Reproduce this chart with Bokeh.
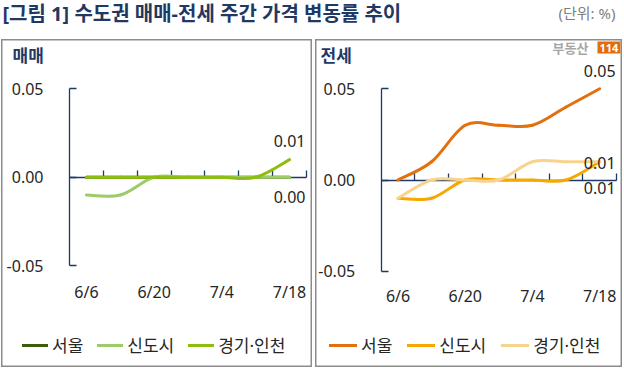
from bokeh.plotting import figure
from bokeh.models import (LinearAxis, FixedTicker, Range1d, Legend, LegendItem,
                          Label, Spacer, NumeralTickFormatter)
from bokeh.layouts import column, row
from bokeh.embed import file_html
from bokeh.resources import INLINE
from bokeh.core.properties import value

# ---------------- data ----------------
dates = ["6/6", "6/13", "6/20", "6/27", "7/4", "7/11", "7/18"]
series_names = ["서울", "신도시", "경기·인천"]

# 매매 (sale) weekly change, %
sale_seoul = [0.00, 0.00, 0.00, 0.00, 0.00, 0.00, 0.00]
sale_newtown = [-0.01, -0.01, 0.00, 0.00, 0.00, 0.00, 0.00]
sale_gyeonggi = [0.00, 0.00, 0.00, 0.00, 0.00, 0.00, 0.01]

# 전세 (jeonse) weekly change, %
jeonse_seoul = [0.00, 0.01, 0.03, 0.03, 0.03, 0.04, 0.05]
jeonse_newtown = [-0.01, -0.01, 0.00, 0.00, 0.00, 0.00, 0.01]
jeonse_gyeonggi = [-0.01, 0.00, 0.00, 0.00, 0.01, 0.01, 0.01]

y_ticks = [-0.05, 0.00, 0.05]

NAVY = "#1F3864"
KR = "'Noto Sans', 'Noto Sans CJK KR', sans-serif"
NUM = "Noto Sans"
TXT = "#262626"


def smooth_segments(xs, ys):
    """Catmull-Rom style bezier segments through the data points."""
    n = len(xs)
    P = list(zip(xs, ys))
    d = dict(x0=[], y0=[], x1=[], y1=[], cx0=[], cy0=[], cx1=[], cy1=[])
    for i in range(n - 1):
        p0 = P[i - 1] if i > 0 else P[i]
        p1 = P[i]
        p2 = P[i + 1]
        p3 = P[i + 2] if i + 2 < n else P[i + 1]
        d["x0"].append(p1[0]); d["y0"].append(p1[1])
        d["x1"].append(p2[0]); d["y1"].append(p2[1])
        d["cx0"].append(p1[0] + (p2[0] - p0[0]) / 6)
        d["cy0"].append(p1[1] + (p2[1] - p0[1]) / 6)
        d["cx1"].append(p2[0] - (p3[0] - p1[0]) / 6)
        d["cy1"].append(p2[1] - (p3[1] - p1[1]) / 6)
    return d


def panel(title, title_x, series, colors, width, H, ax_px, band_end_px, y_top_px, y_bot_px,
          lab_standoff, labels, legend_x, spacing, glyph_w):
    n = len(dates)
    ppx = (band_end_px - ax_px) / n
    xs0 = -0.5 - ax_px / ppx
    xe0 = n - 0.5 + (width - band_end_px) / ppx
    ppy = (y_bot_px - y_top_px) / (y_ticks[-1] - y_ticks[0])
    ye0 = y_ticks[-1] + y_top_px / ppy
    ys0 = y_ticks[0] - (H - y_bot_px) / ppy

    p = figure(width=width, height=H, x_range=Range1d(xs0, xe0), y_range=Range1d(ys0, ye0),
               x_axis_location=None, y_axis_location=None, toolbar_location=None,
               output_backend="svg", min_border=0, min_border_left=0, min_border_right=0,
               min_border_top=0, min_border_bottom=0,
               outline_line_color="#8C8C8C", outline_line_width=2,
               background_fill_color="white", border_fill_color="white")
    p.grid.visible = False

    # horizontal axis line at zero with band-boundary ticks
    xaxis = LinearAxis(fixed_location=0, bounds=(-0.5, n - 0.5),
                       ticker=FixedTicker(ticks=[i + 0.5 for i in range(n)]),
                       axis_line_color=NAVY, axis_line_width=1.3,
                       major_tick_line_color=NAVY, major_tick_line_width=1.3,
                       major_tick_in=7, major_tick_out=0,
                       minor_tick_line_color=None, major_label_text_color=None,
                       level="underlay")
    p.add_layout(xaxis, "below")

    # category labels at the bottom
    lab_idx = list(range(0, n, 2))
    lab_axis = LinearAxis(fixed_location=y_ticks[0], ticker=FixedTicker(ticks=lab_idx),
                          major_label_overrides={i: dates[i] for i in lab_idx},
                          axis_line_color=None, major_tick_line_color=None,
                          minor_tick_line_color=None, major_label_standoff=lab_standoff,
                          major_label_text_font=NUM, major_label_text_font_size="16px",
                          major_label_text_color=TXT)
    p.add_layout(lab_axis, "below")

    yaxis = LinearAxis(fixed_location=-0.5, bounds=(y_ticks[0], y_ticks[-1]),
                       ticker=FixedTicker(ticks=y_ticks),
                       formatter=NumeralTickFormatter(format="0.00"),
                       axis_line_color=NAVY, axis_line_width=1.3,
                       major_tick_line_color=NAVY, major_tick_line_width=1.3,
                       major_tick_in=7, major_tick_out=0, minor_tick_line_color=None,
                       major_label_standoff=26, major_label_text_font=NUM,
                       major_label_text_font_size="16px", major_label_text_color=TXT,
                       level="underlay")
    p.add_layout(yaxis, "left")

    xs = list(range(n))
    items = []
    for name, ys, col in zip(series_names, series, colors):
        r = p.bezier(line_color=col, line_width=3, line_cap="round",
                     **smooth_segments(xs, ys))
        items.append(LegendItem(label=name, renderers=[r]))

    # end-point data labels
    for si, dy in labels:
        ys = series[si]
        p.text(x=[xs[-1]], y=[ys[-1]], text=[f"{ys[-1]:.2f}"], y_offset=dy,
               text_align="center", text_baseline="middle",
               text_font=value(NUM), text_font_size="16px", text_color=TXT)

    legend = Legend(items=items, orientation="horizontal", location=(legend_x, 10),
                    padding=0, margin=0, spacing=spacing, label_standoff=4,
                    glyph_width=glyph_w, glyph_height=16, label_height=16,
                    label_text_font=KR, label_text_font_size="17px",
                    label_text_color=TXT, border_line_color=None,
                    background_fill_alpha=0)
    p.add_layout(legend)

    p.add_layout(Label(x=title_x, y=H - 16, x_units="screen", y_units="screen", text=title,
                       text_font=KR, text_font_size="17px", text_font_style="bold",
                       text_color=NAVY, text_baseline="middle"))
    return p


H = 328
left = panel("매매", 11, [sale_seoul, sale_newtown, sale_gyeonggi],
             ["#3D5C0A", "#9CCB6B", "#8DBE0F"],
             width=311, H=H, ax_px=68, band_end_px=305, y_top_px=49.3, y_bot_px=226.3,
             lab_standoff=9, labels=[(2, -19), (0, 20)], legend_x=21, spacing=14, glyph_w=26)

right = panel("전세", 5, [jeonse_seoul, jeonse_newtown, jeonse_gyeonggi],
              ["#E2700E", "#F7A800", "#F8D38E"],
              width=307, H=H, ax_px=65.7, band_end_px=301, y_top_px=49.3, y_bot_px=231.7,
              lab_standoff=8, labels=[(0, -18), (2, 1), (1, 26)], legend_x=14, spacing=15,
              glyph_w=28)

# 부동산114 logo
right.add_layout(Label(x=237, y=H - 8, x_units="screen", y_units="screen", text="부동산",
                       text_font=KR, text_font_size="13px", text_font_style="bold",
                       text_color="#A6A6A6", text_baseline="middle"))
right.add_layout(Label(x=282, y=H - 8, x_units="screen", y_units="screen", text="114",
                       text_font=NUM, text_font_size="11px", text_font_style="bold",
                       text_color="white", text_baseline="middle", padding=2,
                       background_fill_color="#E46C0A"))

# title strip
TH = 39
top = figure(width=622, height=TH, x_range=Range1d(0, 1), y_range=Range1d(0, 1),
             x_axis_location=None, y_axis_location=None, toolbar_location=None,
             output_backend="svg", min_border=0, outline_line_color=None,
             background_fill_color="white", border_fill_color="white")
top.grid.visible = False
top.add_layout(Label(x=2, y=TH - 13, x_units="screen", y_units="screen",
                     text="[그림 1] 수도권 매매-전세 주간 가격 변동률 추이",
                     text_font=KR, text_font_size="20px", text_font_style="bold",
                     text_color=NAVY, text_baseline="middle"))
top.add_layout(Label(x=615, y=TH - 12, x_units="screen", y_units="screen", text="(단위: %)",
                     text_font=KR, text_font_size="15px", text_color="#7F7F7F",
                     text_align="right", text_baseline="middle"))

layout = column(top,
                row(Spacer(width=1), left, Spacer(width=3), right, spacing=0),
                spacing=0)

open("out.html", "w").write(file_html(layout, INLINE))
